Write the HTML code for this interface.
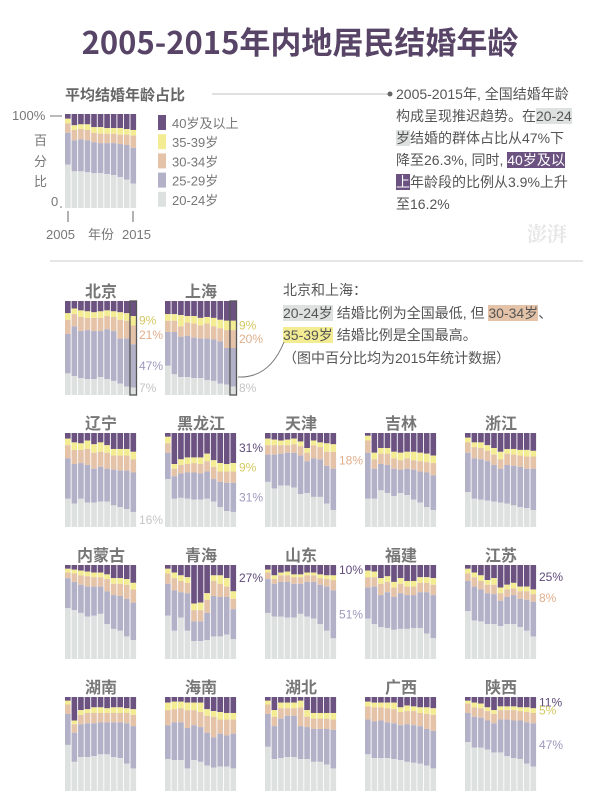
<!DOCTYPE html>
<html><head><meta charset="utf-8">
<style>
html,body{margin:0;padding:0;background:#fff;}
body{width:600px;height:805px;position:relative;overflow:hidden;font-family:"Liberation Sans","Noto Sans CJK SC",sans-serif;}
.t{position:absolute;white-space:nowrap;}
#title{left:0;width:600px;top:18px;text-align:center;font-family:"Noto Sans CJK SC",sans-serif;font-weight:bold;font-size:31px;color:#574466;}
.para{font-family:"Liberation Sans","Noto Sans CJK SC",sans-serif;font-size:14px;color:#555;line-height:22px;}
.hg{background:#dde1e0;}
.hp{background:#6b5280;color:#fff;}
.hs{background:#e5c3a8;}
.hy{background:#f3ec93;}
</style></head>
<body>
<div id="title" class="t">2005-2015年内地居民结婚年龄</div>
<div class="t para" style="left:396px;top:83px;">2005-2015年, 全国结婚年龄<br>构成呈现推迟趋势。在<span class="hg">20-24</span><br><span class="hg">岁</span>结婚的群体占比从47%下<br>降至26.3%, 同时, <span class="hp">40岁及以</span><br><span class="hp">上</span>年龄段的比例从3.9%上升<br>至16.2%</div>
<div class="t para" style="left:283px;top:279px;line-height:22.5px;">北京和上海：<br><span class="hg">20-24岁</span> 结婚比例为全国最低, 但 <span class="hs">30-34岁</span>、<br><span class="hy">35-39岁</span> 结婚比例是全国最高。<br>（图中百分比均为2015年统计数据）</div>
<div class="t" style="left:527px;top:218px;font-size:20px;font-weight:bold;color:#e6e6e6;font-family:'Noto Serif CJK SC',serif;">澎湃</div>
<svg id="svg" width="600" height="805" style="position:absolute;left:0;top:0"></svg>
<script>
const years = [2005,2006,2007,2008,2009,2010,2011,2012,2013,2014,2015];
const catNames = ["40岁及以上","35-39岁","30-34岁","25-29岁","20-24岁"];
const catColors = ["#6b5280","#f3ec93","#e5c3a8","#b3b1c8","#dde1e0"];
const labelColors = ["#5f4a7a","#d6c964","#dfae8c","#9d99bd","#c4c4c4"];
// cumulative % from top: 40+, +35-39, +30-34, +25-29
const nat40=[5,12,11,11,14,14,15,15,15,16,17];
const nat35=[10,17,16,17,20,21,21,21,22,22,23];
const nat30=[20,28,27,28,30,31,31,31,32,33,36];
const nat25=[54,61,61,62,63,63,64,65,67,70,74];
const bj40=[13,8,10,11,12,11,10,11,12,13,16];
const bj35=[20,14,17,18,18,18,16,17,20,21,26];
const bj30=[35,27,32,31,32,32,30,32,40,40,46];
const bj25=[77,80,82,83,83,81,83,85,88,91,92];
const sh40=[14,14,15,16,16,18,17,18,20,21,21];
const sh35=[21,21,27,23,24,26,24,27,29,31,31];
const sh30=[33,33,38,37,39,40,40,41,43,50,50];
const sh25=[69,78,81,81,82,82,84,85,88,89,91];
const ln40=[6,10,11,8,12,10,13,17,17,17,20];
const ln35=[13,18,18,17,21,20,21,24,24,24,28];
const ln30=[27,33,32,34,38,36,38,39,40,40,42];
const ln25=[70,75,70,74,74,73,73,77,79,81,84];
const hlj40=[4,33,28,26,26,26,22,29,32,33,32];
const hlj35=[11,38,34,33,32,33,30,36,41,41,41];
const hlj30=[21,46,43,42,42,43,41,49,52,53,53];
const hlj25=[49,70,69,70,71,71,70,73,79,83,84];
const tj40=[6,7,8,7,6,9,16,8,10,11,12];
const tj35=[13,13,13,13,12,14,21,13,15,20,20];
const tj30=[23,23,22,21,21,24,30,27,28,35,38];
const tj25=[52,59,56,56,58,65,64,68,68,75,82];
const jl40=[3,21,16,16,20,21,20,20,21,22,24];
const jl35=[8,28,22,22,27,29,27,29,30,31,32];
const jl30=[21,38,33,34,38,39,38,39,41,42,45];
const jl25=[70,70,61,64,67,64,66,71,74,79,82];
const zj40=[5,10,10,13,16,20,17,17,18,18,19];
const zj35=[10,15,16,19,23,28,22,23,24,25,25];
const zj30=[21,27,28,30,34,38,34,35,36,38,38];
const zj25=[63,70,71,72,73,74,75,77,79,80,82];
const nm40=[4,5,6,7,8,8,10,14,14,15,19];
const nm35=[8,9,11,12,13,13,15,20,20,21,26];
const nm30=[14,18,21,23,23,23,28,32,33,36,40];
const nm25=[46,48,51,55,54,52,63,68,70,76,80];
const qh40=[4,8,11,13,41,40,30,11,11,14,28];
const qh35=[9,14,17,19,48,48,37,17,20,23,36];
const qh30=[20,27,29,30,60,60,51,33,34,34,47];
const qh25=[54,70,56,70,81,81,80,76,76,74,79];
const sd40=[5,11,8,7,10,10,8,8,10,11,11];
const sd35=[8,15,11,11,13,13,11,11,14,15,16];
const sd30=[15,20,18,18,20,20,18,18,21,23,27];
const sd25=[51,55,55,56,56,52,55,57,63,70,78];
const fj40=[6,7,14,12,18,14,17,17,13,13,14];
const fj35=[13,13,20,18,24,20,23,23,19,19,21];
const fj30=[24,23,32,29,34,30,32,32,29,29,32];
const fj25=[57,63,66,67,69,68,68,67,67,73,78];
const js40=[4,8,11,16,14,24,21,19,23,23,26];
const js35=[9,13,17,21,21,30,26,25,28,28,31];
const js30=[17,23,26,30,31,38,34,32,36,37,39];
const js25=[49,59,60,63,63,65,63,63,66,70,76];
const hun40=[4,25,14,13,11,11,12,11,11,12,13];
const hun35=[8,29,19,17,17,17,17,17,17,17,19];
const hun30=[18,38,29,28,28,27,27,27,27,28,31];
const hun25=[51,69,64,64,63,61,61,64,65,71,76];
const hn40=[6,5,5,6,6,6,13,15,16,17,17];
const hn35=[14,13,12,14,14,16,20,21,24,24,24];
const hn30=[30,27,27,33,30,32,38,43,39,41,39];
const hn25=[66,67,67,76,67,69,73,75,74,74,76];
const hb40=[4,14,6,6,6,4,14,17,17,17,17];
const hb35=[8,21,12,12,12,11,21,23,23,23,24];
const hb30=[18,31,23,20,20,31,32,34,34,34,35];
const hb25=[53,66,65,64,64,66,66,69,69,72,76];
const gx40=[5,6,6,6,6,11,9,10,11,11,12];
const gx35=[10,11,11,12,13,16,15,15,17,18,19];
const gx30=[24,26,25,27,28,30,29,30,31,34,36];
const gx25=[61,65,65,65,66,67,69,70,71,73,76];
const sx40=[4,6,7,11,14,10,10,10,11,11,12];
const sx35=[7,11,12,15,18,14,14,14,15,16,17];
const sx30=[17,21,22,25,28,24,24,25,25,27,28];
const sx25=[48,54,54,56,59,59,63,65,66,71,74];

const NS="http://www.w3.org/2000/svg";
const svg=document.getElementById('svg');
const CW=72, CH=94;
function mk(tag,attrs,parent){const e=document.createElementNS(NS,tag);for(const k in attrs)e.setAttribute(k,attrs[k]);(parent||svg).appendChild(e);return e;}
function drawChart(slug,title,x0,y0,c40,c35,c30,c25,highlight,labels){
  const g=mk('g',{});
  
  
  const xS=i=>x0+i*CW/years.length;
  const yS=p=>y0+p/100*CH;
  const bw=CW/years.length;
  if(title){
    const t=mk('text',{x:x0+CW/2,y:y0-4,'text-anchor':'middle','font-size':16,'font-weight':'bold',fill:'#777','font-family':'"Noto Sans CJK SC",sans-serif'},g);
    t.textContent=title;
    
    
  }
  years.forEach((yr,i)=>{
    const b=[0,c40[i],c35[i],c30[i],c25[i],100];
    for(let k=0;k<5;k++){
      const r=mk('rect',{x:xS(i),y:yS(b[k]),width:bw-0.9,height:Math.max(0,yS(b[k+1])-yS(b[k])),fill:catColors[k]},g);
      
      
    }
  });
  if(highlight){
    const h=mk('rect',{x:xS(years.length-1)-0.5,y:y0,width:bw,height:CH,fill:'none',stroke:'#555','stroke-width':1.3},g);
    
    
  }
  const n=years.length-1;
  const bnd=[0,c40[n],c35[n],c30[n],c25[n],100];
  labels.forEach(([txt,k])=>{
    let y = k===4 ? y0+CH-3 : yS((bnd[k]+bnd[k+1])/2)+4;
    const t=mk('text',{x:x0+74,y:y,'font-size':12,fill:labelColors[k],'font-family':'"Liberation Sans",sans-serif'},g);
    t.textContent=txt;
    
    
  });
}
// national chart
drawChart('national','',65,114,nat40,nat35,nat30,nat25,false,[]);
const X=[65,165,265,365,465], Y=[301,433,565,697];
drawChart('beijing','北京',X[0],Y[0],bj40,bj35,bj30,bj25,true,[['9%',1],['21%',2],['47%',3],['7%',4]]);
drawChart('shanghai','上海',X[1],Y[0],sh40,sh35,sh30,sh25,true,[['9%',1],['20%',2],['8%',4]]);
drawChart('liaoning','辽宁',X[0],Y[1],ln40,ln35,ln30,ln25,false,[['16%',4]]);
drawChart('heilongjiang','黑龙江',X[1],Y[1],hlj40,hlj35,hlj30,hlj25,false,[['31%',0],['9%',1],['31%',3]]);
drawChart('tianjin','天津',X[2],Y[1],tj40,tj35,tj30,tj25,false,[['18%',2]]);
drawChart('jilin','吉林',X[3],Y[1],jl40,jl35,jl30,jl25,false,[]);
drawChart('zhejiang','浙江',X[4],Y[1],zj40,zj35,zj30,zj25,false,[]);
drawChart('neimenggu','内蒙古',X[0],Y[2],nm40,nm35,nm30,nm25,false,[]);
drawChart('qinghai','青海',X[1],Y[2],qh40,qh35,qh30,qh25,false,[['27%',0]]);
drawChart('shandong','山东',X[2],Y[2],sd40,sd35,sd30,sd25,false,[['10%',0],['51%',3]]);
drawChart('fujian','福建',X[3],Y[2],fj40,fj35,fj30,fj25,false,[]);
drawChart('jiangsu','江苏',X[4],Y[2],js40,js35,js30,js25,false,[['25%',0],['8%',2]]);
drawChart('hunan','湖南',X[0],Y[3],hun40,hun35,hun30,hun25,false,[]);
drawChart('hainan','海南',X[1],Y[3],hn40,hn35,hn30,hn25,false,[]);
drawChart('hubei','湖北',X[2],Y[3],hb40,hb35,hb30,hb25,false,[]);
drawChart('guangxi','广西',X[3],Y[3],gx40,gx35,gx30,gx25,false,[]);
drawChart('shaanxi','陕西',X[4],Y[3],sx40,sx35,sx30,sx25,false,[['11%',0],['5%',1],['47%',3]]);

// national chart decorations
function txt(x,y,s,opts,name){const t=mk('text',Object.assign({x:x,y:y,'font-size':13,fill:'#777','font-family':'"Liberation Sans","Noto Sans CJK SC",sans-serif'},opts||{}));t.textContent=s;return t;}
txt(65,100,'平均结婚年龄占比',{'font-size':15,'font-weight':'bold',fill:'#666'},'national-chart-title');
const ln=mk('line',{x1:212,y1:94,x2:388,y2:94,stroke:'#d6d6d6','stroke-width':1.5});


const dot=mk('circle',{cx:390,cy:94,r:2.5,fill:'#666'});


txt(12,120,'100%',{},'y-tick-100');
txt(51,206,'0',{},'y-tick-0');
[[116],[207]].forEach((v,i)=>{const l=mk('line',{x1:i?60:50,y1:v[0],x2:62,y2:v[0],stroke:'#777','stroke-width':1});});
txt(34,145,'百',{},'y-axis-title-1');
txt(34,166,'分',{},'y-axis-title-2');
txt(34,186,'比',{},'y-axis-title-3');
[68,133].forEach(x=>{const l=mk('line',{x1:x,y1:211,x2:x,y2:222,stroke:'#666','stroke-width':1});});
txt(46,239,'2005',{},'x-tick-2005');
txt(88,239,'年份',{},'x-axis-title');
txt(122,239,'2015',{},'x-tick-2015');
catNames.forEach((c,k)=>{
  const y=115+k*19.2;
  const r=mk('rect',{x:158,y:y,width:8,height:15,fill:catColors[k]});
  
  
  txt(172,y+13,c,{},'legend-entry-'+k);
});
const sep=mk('line',{x1:50,y1:261,x2:583,y2:261,stroke:'#ddd','stroke-width':1.5});


const cv=mk('path',{d:'M238,377 C262,378 276,362 284,342',fill:'none',stroke:'#777','stroke-width':1});


</script>
</body></html>
